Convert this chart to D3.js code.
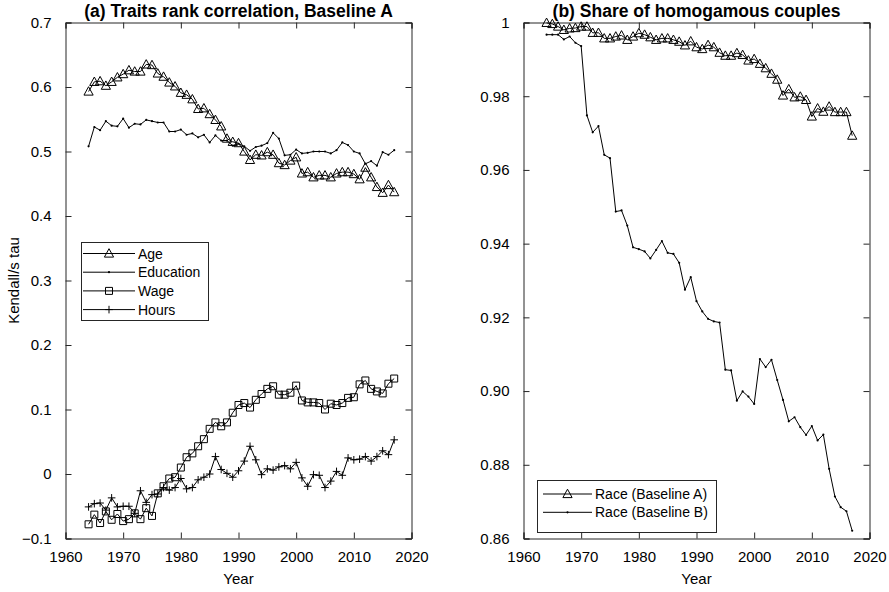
<!DOCTYPE html>
<html>
<head>
<meta charset="utf-8">
<script src="https://cdn.jsdelivr.net/npm/d3@7"></script>
<style>
  html, body { margin: 0; padding: 0; background: #fff; }
  svg { display: block; }
  text { font-family: "Liberation Sans", Arial, sans-serif; fill: #000; }
</style>
</head>
<body>
<svg id="chart" width="889" height="592"></svg>
<script>
// ---------------- DATA ----------------
const years = d3.range(1964, 2018);

const age = [0.593,0.608,0.609,0.602,0.608,0.615,0.620,0.626,0.624,0.624,
             0.635,0.634,0.621,0.616,0.607,0.601,0.591,0.588,0.581,0.566,
             0.567,0.558,0.549,0.539,0.520,0.515,0.513,0.500,0.487,0.495,
             0.494,0.499,0.495,0.482,0.479,0.486,0.491,0.466,0.468,0.460,
             0.463,0.463,0.460,0.466,0.468,0.468,0.465,0.457,0.475,0.460,
             0.445,0.436,0.448,0.437];

const education = [0.508,0.538,0.533,0.547,0.540,0.539,0.551,0.537,0.543,0.542,
                   0.549,0.547,0.545,0.545,0.531,0.531,0.534,0.526,0.528,0.522,
                   0.526,0.514,0.525,0.517,0.517,0.509,0.512,0.508,0.501,0.507,
                   0.509,0.513,0.529,0.520,0.494,0.495,0.503,0.497,0.498,0.500,
                   0.500,0.500,0.497,0.502,0.514,0.510,0.500,0.497,0.481,0.485,
                   0.478,0.499,0.495,0.502];

const wage = [-0.078,-0.063,-0.076,-0.058,-0.071,-0.062,-0.073,-0.070,-0.061,-0.070,
              -0.053,-0.065,-0.030,-0.019,-0.007,-0.005,0.010,0.026,0.032,0.043,
              0.054,0.070,0.080,0.074,0.080,0.095,0.107,0.110,0.103,0.115,
              0.124,0.132,0.136,0.123,0.123,0.126,0.137,0.114,0.111,0.111,
              0.110,0.100,0.109,0.107,0.110,0.118,0.119,0.139,0.145,0.132,
              0.128,0.125,0.140,0.148];

const hours = [-0.051,-0.046,-0.045,-0.056,-0.037,-0.051,-0.050,-0.050,-0.061,-0.026,
               -0.044,-0.032,-0.031,-0.021,-0.025,-0.021,-0.007,-0.023,-0.021,-0.009,
               -0.005,0.000,0.027,0.007,0.001,-0.005,0.005,0.020,0.043,0.022,
               -0.001,0.008,0.006,0.011,0.013,0.008,0.018,-0.006,-0.019,-0.001,
               -0.002,-0.021,-0.011,0.004,-0.002,0.025,0.022,0.023,0.027,0.020,
               0.027,0.036,0.030,0.053];

const raceA = [0.9999,0.9996,0.9989,0.9980,0.9984,0.9985,0.9989,0.9989,0.9972,0.9972,
               0.9957,0.9957,0.9962,0.9965,0.9953,0.9962,0.9971,0.9967,0.9960,0.9953,
               0.9957,0.9957,0.9953,0.9948,0.9938,0.9949,0.9933,0.9928,0.9939,0.9933,
               0.9918,0.9910,0.9910,0.9917,0.9912,0.9897,0.9901,0.9888,0.9876,0.9861,
               0.9845,0.9802,0.9819,0.9797,0.9799,0.9790,0.9745,0.9767,0.9758,0.9772,
               0.9757,0.9757,0.9757,0.9693];

const raceB = [0.9967,0.9967,0.9967,0.9954,0.9962,0.9945,0.9936,0.9748,0.9702,0.9719,
               0.9641,0.9632,0.9487,0.9490,0.9449,0.9390,0.9385,0.9379,0.9360,0.9383,
               0.9407,0.9375,0.9372,0.9348,0.9275,0.9309,0.9244,0.9216,0.9196,0.9189,
               0.9186,0.9058,0.9056,0.8974,0.8999,0.8985,0.8965,0.9087,0.9065,0.9085,
               0.9030,0.8976,0.8918,0.8929,0.8902,0.8881,0.8905,0.8866,0.8882,0.8789,
               0.8714,0.8685,0.8674,0.8621];

const xTicks = [1960,1970,1980,1990,2000,2010,2020];
const yTicksA = [-0.1,0,0.1,0.2,0.3,0.4,0.5,0.6,0.7];
const yTicksB = [0.86,0.88,0.9,0.92,0.94,0.96,0.98,1];

const titleA = "(a) Traits rank correlation, Baseline A";
const titleB = "(b) Share of homogamous couples";
const seriesA = [
  {name: "Age", values: age, marker: "triangle"},
  {name: "Education", values: education, marker: "dot"},
  {name: "Wage", values: wage, marker: "square"},
  {name: "Hours", values: hours, marker: "plus"}
];
const seriesB = [
  {name: "Race (Baseline A)", values: raceA, marker: "triangle"},
  {name: "Race (Baseline B)", values: raceB, marker: "dot"}
];

// ---------------- DRAW ----------------
const svg = d3.select("#chart");
const axisColor = "#262626";

function markerPath(type) {
  switch (type) {
    case "triangle": return "M0,-4.8L4.6,3.6L-4.6,3.6Z";
    case "square": return "M-3.5,-3.5H3.5V3.5H-3.5Z";
    case "plus": return "M-3.8,0H3.8M0,-3.8V3.8";
    default: return null;
  }
}

function drawMarker(g, type, x, y) {
  if (type === "dot") {
    g.append("circle").attr("cx", x).attr("cy", y).attr("r", 1.1).attr("fill", "#000");
  } else {
    g.append("path").attr("d", markerPath(type))
      .attr("transform", `translate(${x},${y})`)
      .attr("fill", "none").attr("stroke", "#000").attr("stroke-width", 1);
  }
}

function panel(opts) {
  const {x0, x1, y0, y1, yDomain, yTicks, yFmt, title, series, legend, ylabel} = opts;
  const x = d3.scaleLinear().domain([1960, 2020]).range([x0, x1]);
  const y = d3.scaleLinear().domain(yDomain).range([y1, y0]);
  const g = svg.append("g");

  // axes: bottom & left with labels, top & right without
  const tick = 6;
  const bottom = g.append("g").attr("transform", `translate(0,${y1})`)
    .call(d3.axisBottom(x).tickValues(xTicks).tickSize(-tick).tickPadding(13).tickFormat(d3.format("d")));
  const top = g.append("g").attr("transform", `translate(0,${y0})`)
    .call(d3.axisTop(x).tickValues(xTicks).tickSize(-tick).tickFormat(""));
  const left = g.append("g").attr("transform", `translate(${x0},0)`)
    .call(d3.axisLeft(y).tickValues(yTicks).tickSize(-tick).tickPadding(14).tickFormat(yFmt));
  const right = g.append("g").attr("transform", `translate(${x1},0)`)
    .call(d3.axisRight(y).tickValues(yTicks).tickSize(-tick).tickFormat(""));
  [bottom, top, left, right].forEach(a => {
    a.select(".domain").attr("stroke", axisColor).attr("stroke-width", 1);
    a.selectAll(".tick line").attr("stroke", axisColor);
    a.selectAll(".tick text").attr("font-size", 15).attr("fill", "#000")
      .attr("font-family", "Liberation Sans, Arial, sans-serif");
  });

  // series
  const line = d3.line().x((d, i) => x(years[i])).y(d => y(d));
  series.forEach(s => {
    g.append("path").datum(s.values).attr("d", line)
      .attr("fill", "none").attr("stroke", "#000").attr("stroke-width", 1);
    const mg = g.append("g");
    s.values.forEach((v, i) => drawMarker(mg, s.marker, x(years[i]), y(v)));
  });

  // title
  g.append("text").attr("x", (x0 + x1) / 2).attr("y", 17).attr("text-anchor", "middle")
    .attr("font-size", 17.5).attr("font-weight", "bold").text(title);
  // x label
  g.append("text").attr("x", (x0 + x1) / 2).attr("y", 584).attr("text-anchor", "middle")
    .attr("font-size", 15).text("Year");
  if (ylabel) {
    g.append("text").attr("transform", `translate(19,${(y0 + y1) / 2}) rotate(-90)`)
      .attr("text-anchor", "middle").attr("font-size", 15).text(ylabel);
  }

  // legend
  const L = legend;
  g.append("rect").attr("x", L.x + 0.5).attr("y", L.y + 0.5).attr("width", L.w).attr("height", L.h)
    .attr("fill", "#fff").attr("stroke", axisColor).attr("stroke-width", 1);
  series.forEach((s, i) => {
    const yy = L.y + L.first + i * L.step;
    g.append("line").attr("x1", L.lx0).attr("x2", L.lx1).attr("y1", yy).attr("y2", yy)
      .attr("stroke", "#000").attr("stroke-width", 1);
    drawMarker(g, s.marker, (L.lx0 + L.lx1) / 2, yy);
    g.append("text").attr("x", L.tx).attr("y", yy + 5).attr("font-size", 14).text(s.name);
  });
}

const fmtA = d => d3.format(".1f")(d).replace(/\.0$/, "").replace("0.0", "0");
panel({
  x0: 65.5, x1: 411.5, y0: 22.5, y1: 538.5,
  yDomain: [-0.1, 0.7], yTicks: yTicksA,
  yFmt: d => (Math.abs(d) < 1e-9 ? "0" : d3.format(".1f")(d)),
  title: titleA, series: seriesA, ylabel: "Kendall/s tau",
  legend: {x: 81, y: 242, w: 127, h: 78, first: 11.5, step: 18.7, lx0: 83, lx1: 135, tx: 138}
});
panel({
  x0: 523.5, x1: 869.5, y0: 22.5, y1: 538.5,
  yDomain: [0.86, 1], yTicks: yTicksB,
  yFmt: d => (d === 1 ? "1" : d3.format(".2f")(d)),
  title: titleB, series: seriesB, ylabel: null,
  legend: {x: 537, y: 480, w: 179, h: 52, first: 14, step: 18.3, lx0: 543, lx1: 592, tx: 595}
});
</script>
</body>
</html>
